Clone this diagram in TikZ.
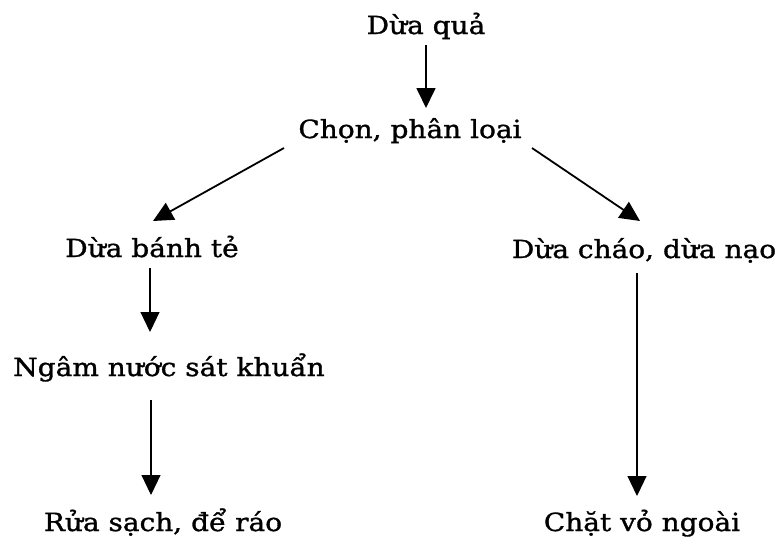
\documentclass[tikz,border=0pt]{standalone}
\usepackage{fontspec}
\setmainfont[FakeStretch=1.12,FakeBold=1.2]{DejaVu Serif}
\usetikzlibrary{arrows.meta,calc}
\begin{document}
\begin{tikzpicture}[x=1pt,y=-1pt,
  step label/.style={anchor=base,inner sep=0pt,font=\fontsize{25}{30}\selectfont},
  flow/.style={-{Triangle[length=20pt,width=19pt]},line width=1.8pt},
  thinflow/.style={flow,line width=1.1pt}]
\useasboundingbox (0,0) rectangle (779,541);

% process steps
\node[step label] (qua)  at (426,34)  {Dừa quả};
\node[step label] (chon) at (410,138) {Chọn, phân loại};
\node[step label] (banh) at (152,257) {Dừa bánh tẻ};
\node[step label] (chao) at (644,258) {Dừa cháo, dừa nạo};
\node[step label] (ngam) at (169,376) {Ngâm nước sát khuẩn};
\node[step label] (rua)  at (163,531) {Rửa sạch, để ráo};
\node[step label] (chat) at (642,531) {Chặt vỏ ngoài};

% connectors
\draw[flow] ($(qua.base)+(0,11)$) -- ($(qua.base |- chon.base)+(0,-30)$);
\draw[flow] ($(chon.base)+(-126,10)$) -- ($(banh.base)+(1,-36)$);
\draw[flow] ($(chon.base)+(122,10)$) -- ($(chao.base)+(-4,-37)$);
\draw[thinflow] ($(banh.base)+(-2,11)$) -- ($(banh.base |- ngam.base)+(-2,-44)$);
\draw[thinflow] ($(ngam.base)+(-18,24)$) -- ($(ngam.base |- rua.base)+(-18,-36)$);
\draw[thinflow] ($(chao.base)+(-7,15)$) -- ($(chao.base |- chat.base)+(-7,-35)$);
\end{tikzpicture}
\end{document}
